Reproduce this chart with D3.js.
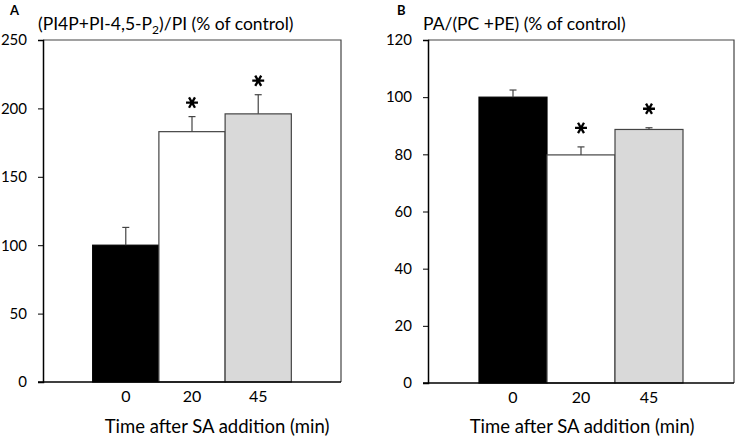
<!DOCTYPE html>
<html>
<head>
<meta charset="utf-8">
<script src="https://cdn.jsdelivr.net/npm/d3@7"></script>
<style>
  body { margin: 0; background: #fff; }
  svg text { font-family: Lato, "Open Sans", sans-serif; fill: #000; }
</style>
</head>
<body>
<div id="chart"></div>
<script>
// data
var categories = ["0", "20", "45"];
var barColors = ["#000000", "#ffffff", "#d9d9d9"];

var valuesA = [100, 183, 196];
var errorsA = [13, 11, 14];
var starsA = [false, true, true];
var ticksA = [0, 50, 100, 150, 200, 250];

var valuesB = [100, 79.8, 88.7];
var errorsB = [2.5, 2.8, 0.6];
var starsB = [false, true, true];
var ticksB = [0, 20, 40, 60, 80, 100, 120];

var svg = d3.select("#chart")
    .append("svg")
    .attr("width", 738)
    .attr("height", 439);

var star = d3.symbol().type(d3.symbolAsterisk).size(100);

function panel(opts) {
    var x = d3.scaleBand()
        .domain(categories)
        .range([opts.left, opts.right])
        .paddingInner(0)
        .paddingOuter(0.75);

    var y = d3.scaleLinear()
        .domain([0, opts.max])
        .range([opts.bottom, opts.top]);

    var rows = categories.map(function(c, i) {
        return {cat: c, value: opts.values[i], err: opts.errors[i], star: opts.stars[i], color: barColors[i], i: i};
    });
    var cx = function(d) { return x(d.cat) + x.bandwidth() / 2; };

    var g = svg.append("g");

    // frame (top + right)
    g.append("path")
        .attr("d", "M" + opts.left + "," + opts.top + "H" + opts.right + "V" + opts.bottom)
        .attr("fill", "none")
        .attr("stroke", "#444")
        .attr("stroke-width", 1.2);

    // bars
    g.selectAll(".bar")
        .data(rows)
        .enter()
        .append("rect")
        .attr("class", "bar")
        .attr("x", function(d) { return x(d.cat); })
        .attr("y", function(d) { return y(d.value); })
        .attr("width", x.bandwidth())
        .attr("height", function(d) { return y(0) - y(d.value); })
        .attr("fill", function(d) { return d.color; })
        .attr("stroke", function(d) { return d.i == 0 ? "#000" : "#444"; })
        .attr("stroke-width", 1.2);

    // error bars (upper only)
    var err = g.selectAll(".err")
        .data(rows)
        .enter()
        .append("g")
        .attr("class", "err")
        .attr("stroke", "#444")
        .attr("stroke-width", 1.2);
    err.append("line")
        .attr("x1", cx)
        .attr("x2", cx)
        .attr("y1", function(d) { return y(d.value); })
        .attr("y2", function(d) { return y(d.value + d.err); });
    err.append("line")
        .attr("x1", function(d) { return cx(d) - 3.5; })
        .attr("x2", function(d) { return cx(d) + 3.5; })
        .attr("y1", function(d) { return y(d.value + d.err); })
        .attr("y2", function(d) { return y(d.value + d.err); });

    // significance stars
    g.selectAll(".star")
        .data(rows.filter(function(d) { return d.star; }))
        .enter()
        .append("path")
        .attr("class", "star")
        .attr("d", star)
        .attr("transform", function(d) {
            return "translate(" + cx(d) + "," + (y(d.value + d.err) - opts.starGap) + ") rotate(90)";
        })
        .attr("fill", "none")
        .attr("stroke", "#000")
        .attr("stroke-width", 2.3);

    // axes
    var yAxis = g.append("g")
        .attr("transform", "translate(" + opts.left + ",0)")
        .call(d3.axisLeft(y).tickValues(opts.ticks).tickSize(5).tickPadding(11));
    yAxis.select(".domain").attr("stroke-width", 1.5);
    yAxis.selectAll("text").style("font-size", "15px");

    var xAxis = g.append("g")
        .attr("transform", "translate(0," + opts.bottom + ")")
        .call(d3.axisBottom(x).tickSize(0).tickPadding(9));
    xAxis.select(".domain")
        .attr("d", "M" + (opts.left - 5) + ",0H" + opts.right)
        .attr("stroke-width", 1.5);
    xAxis.selectAll("text").style("font-size", "16px");

    // titles
    g.append("text")
        .attr("x", opts.letterX)
        .attr("y", 15)
        .style("font-size", "13px")
        .style("font-weight", "bold")
        .text(opts.letter);

    var t = g.append("text")
        .attr("x", opts.titleX)
        .attr("y", 30)
        .style("font-size", "17.5px");
    opts.title(t);

    g.append("text")
        .attr("x", (opts.left + opts.right) / 2 + opts.xTitleShift)
        .attr("y", 433)
        .attr("text-anchor", "middle")
        .style("font-size", "18.5px")
        .text("Time after SA addition (min)");
}

panel({
    left: 43, right: 341, top: 40, bottom: 382, max: 250,
    values: valuesA, errors: errorsA, stars: starsA, ticks: ticksA, starGap: 14,
    letter: "A", letterX: 10, titleX: 38, xTitleShift: 25,
    title: function(t) {
        t.append("tspan").text("(PI4P+PI-4,5-P");
        t.append("tspan").attr("dy", 4).style("font-size", "12px").text("2");
        t.append("tspan").attr("dy", -4).text(")/PI (% of control)");
    }
});

panel({
    left: 428, right: 734, top: 40, bottom: 383, max: 120,
    values: valuesB, errors: errorsB, stars: starsB, ticks: ticksB, starGap: 19,
    letter: "B", letterX: 397, titleX: 423, xTitleShift: 1,
    title: function(t) {
        t.text("PA/(PC +PE) (% of control)");
    }
});
</script>
</body>
</html>
